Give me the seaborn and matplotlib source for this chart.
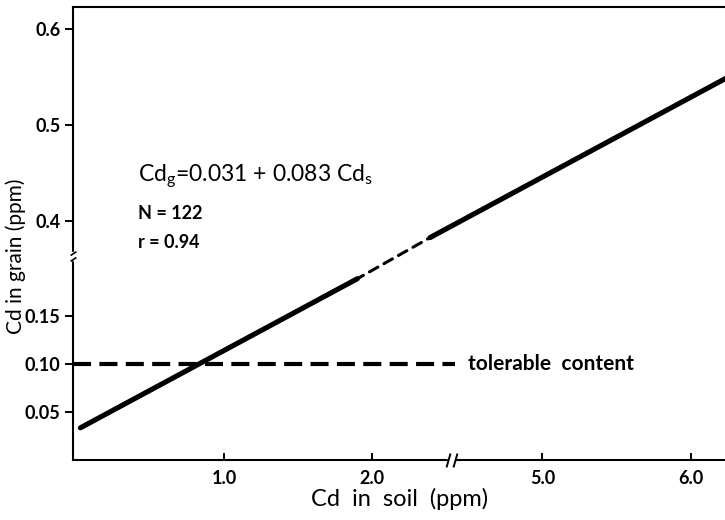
import numpy as np
import matplotlib
matplotlib.use("Agg")
import matplotlib.pyplot as plt
from matplotlib.path import Path
import seaborn as sns

# Regression of grain Cd on soil Cd
intercept = 0.031
slope = 0.083
n_samples = 122
r_value = 0.94

# Soil Cd ranges (ppm) for each drawn piece of the regression line
soil_low = [0.03, 1.90]       # solid, lower-left panel
soil_bridge = [1.90, 4.24]    # dashed, across the breaks
soil_high = [4.24, 6.28]      # solid, upper-right panel

# Tolerable content in grain (ppm)
tolerable = 0.10
tolerable_soil = [-0.02, 4.41]

# Axis ticks
x_ticks = [1.0, 2.0, 5.0, 6.0]
x_ticklabels = ["1.0", "2.0", "5.0", "6.0"]
y_ticks = [0.05, 0.10, 0.15, 0.4, 0.5, 0.6]
y_ticklabels = ["0.05", "0.10", "0.15", "0.4", "0.5", "0.6"]

# Axis breaks: the interval (lo, hi) is collapsed to a point
x_break = (2.39, 4.24)
y_break = (0.2125, 0.364)


def broken(lo, hi):
    gap = hi - lo

    def forward(v):
        v = np.asarray(v, dtype=float)
        return np.where(v <= lo, v, np.where(v >= hi, v - gap, lo))

    def inverse(u):
        u = np.asarray(u, dtype=float)
        return np.where(u <= lo, u, u + gap)

    return forward, inverse


sns.set_theme(style="ticks")
plt.rcParams["font.family"] = ["Lato", "DejaVu Sans"]
plt.rcParams["mathtext.fontset"] = "custom"
plt.rcParams["mathtext.rm"] = "Lato"
plt.rcParams["lines.scale_dashes"] = False

fig = plt.figure(figsize=(7.25, 5.2), dpi=100)
ax = fig.add_axes([73 / 725, 60 / 520, 662 / 725, 453 / 520])
ax.set_xscale("function", functions=broken(*x_break))
ax.set_yscale("function", functions=broken(*y_break))


def grain(xs):
    return [intercept + slope * x for x in xs]


solid = dict(color="black", linewidth=3.7, solid_capstyle="round")
sns.lineplot(x=soil_low, y=grain(soil_low), ax=ax, **solid)
sns.lineplot(x=soil_high, y=grain(soil_high), ax=ax, **solid)
sns.lineplot(x=soil_bridge, y=grain(soil_bridge), ax=ax, color="black",
             linewidth=2.2, linestyle=(2, (7, 5)), dash_capstyle="round")
sns.lineplot(x=tolerable_soil, y=[tolerable, tolerable], ax=ax, color="black",
             linewidth=3.0, linestyle=(0, (13, 6)))

ax.set_xlim(-0.02, 6.3)
ax.set_ylim(0.0, 0.623)

ax.xaxis.set_major_locator(matplotlib.ticker.FixedLocator(x_ticks))
ax.xaxis.set_major_formatter(matplotlib.ticker.FixedFormatter(x_ticklabels))
ax.xaxis.set_minor_locator(matplotlib.ticker.NullLocator())
ax.yaxis.set_major_locator(matplotlib.ticker.FixedLocator(y_ticks))
ax.yaxis.set_major_formatter(matplotlib.ticker.FixedFormatter(y_ticklabels))
ax.yaxis.set_minor_locator(matplotlib.ticker.NullLocator())

ax.tick_params(axis="x", direction="in", length=5, width=1.4, pad=7,
               labelsize=13, colors="black")
ax.tick_params(axis="y", direction="out", length=6, width=1.4, pad=3,
               labelsize=13, colors="black")
for lab in ax.get_xticklabels() + ax.get_yticklabels():
    lab.set_fontweight("bold")

for side in ("left", "bottom", "top"):
    ax.spines[side].set_linewidth(1.5)
    ax.spines[side].set_color("black")
ax.spines["right"].set_visible(False)

ax.set_xlabel("Cd  in  soil  (ppm)", fontsize=17, color="black")
ax.set_ylabel("Cd in grain (ppm)", fontsize=15, color="black")
ax.xaxis.set_label_coords(0.494, -0.062)
ax.yaxis.set_label_coords(-0.071, 0.45)

# Break marks on both axes
x_slash = Path([(-5, -7), (-1, 7), (2, -7), (6, 7)],
               [Path.MOVETO, Path.LINETO, Path.MOVETO, Path.LINETO])
y_slash = Path([(-3, 1), (3, 5), (-3, -5), (3, -1)],
               [Path.MOVETO, Path.LINETO, Path.MOVETO, Path.LINETO])
ax.plot([4.38], [0], transform=ax.get_xaxis_transform(), marker="s",
        markersize=4, color="white", linestyle="none", clip_on=False, zorder=6)
ax.plot([4.38], [0], transform=ax.get_xaxis_transform(), marker=x_slash,
        markersize=10, mec="black", mew=1.4, linestyle="none", clip_on=False,
        zorder=7)
ax.plot([0], [y_break[0]], transform=ax.get_yaxis_transform(), marker="s",
        markersize=6, color="white", linestyle="none", clip_on=False, zorder=6)
ax.plot([0], [y_break[0]], transform=ax.get_yaxis_transform(), marker=y_slash,
        markersize=7, mec="black", mew=1.2, linestyle="none", clip_on=False,
        zorder=7)

# Equation and statistics
ax.text(0.098, 0.625,
        r"Cd$_\mathregular{g}$=0.031 + 0.083 Cd$_\mathregular{s}$",
        transform=ax.transAxes, fontsize=16.5, va="center", ha="left",
        color="black")
ax.text(0.098, 0.545, f"N = {n_samples}", transform=ax.transAxes,
        fontsize=13, fontweight="bold", va="center", ha="left", color="black")
ax.text(0.098, 0.481, f"r = {r_value}", transform=ax.transAxes,
        fontsize=13, fontweight="bold", va="center", ha="left", color="black")
ax.text(4.50, tolerable, "tolerable  content", fontsize=15, fontweight="bold",
        va="center", ha="left", color="black")

fig.savefig("out.png", dpi=100, facecolor="white")
